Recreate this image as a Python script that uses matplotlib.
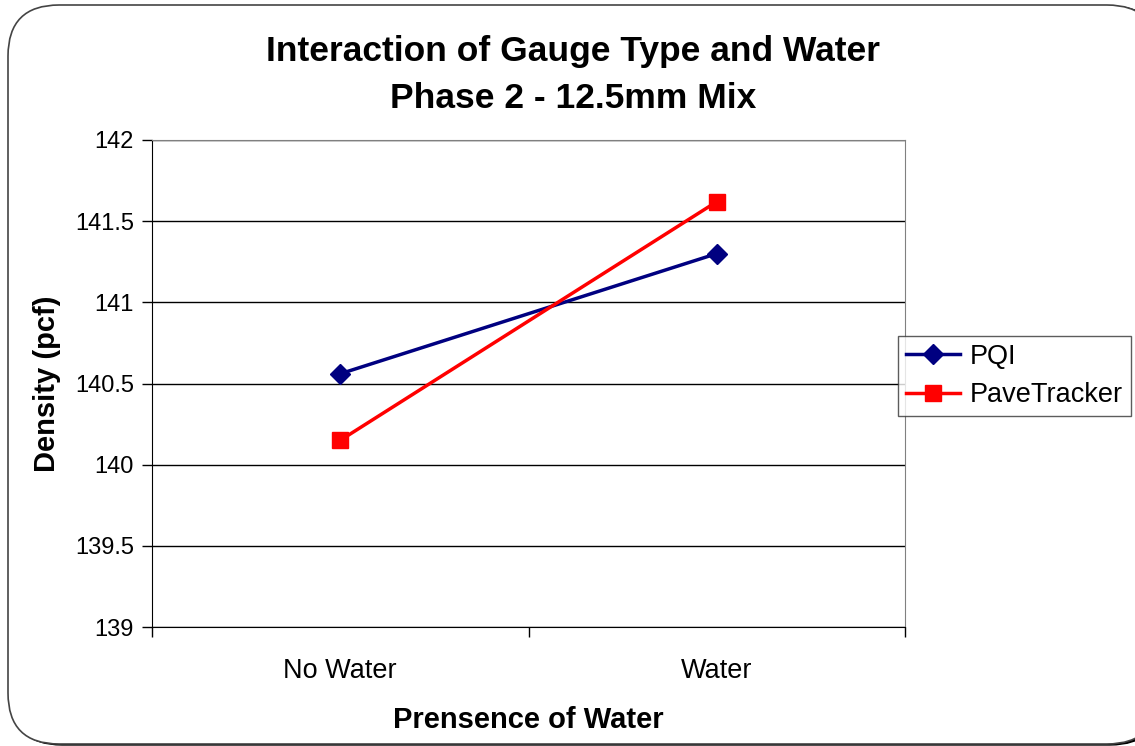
import matplotlib
matplotlib.use("Agg")
import matplotlib.pyplot as plt
from matplotlib.patches import FancyBboxPatch

categories = ["No Water", "Water"]
pqi = [140.56, 141.30]
pavetracker = [140.15, 141.62]
yticks = [139, 139.5, 140, 140.5, 141, 141.5, 142]
ytick_labels = ["139", "139.5", "140", "140.5", "141", "141.5", "142"]

W, H = 1135, 746
plt.rcParams['font.family'] = ['Liberation Sans', 'DejaVu Sans']
fig = plt.figure(figsize=(W / 100, H / 100), dpi=100)

# rounded border with shadow (extends past the right edge like the reference)
shadow = FancyBboxPatch((11 / W, 1 / H), 1150 / W, 739 / H,
                        boxstyle="round,pad=0,rounding_size=0.045",
                        transform=fig.transFigure, facecolor="black",
                        edgecolor="black", zorder=0, mutation_aspect=W / H)
fig.patches.append(shadow)
border = FancyBboxPatch((8 / W, 2 / H), 1150 / W, 739 / H,
                        boxstyle="round,pad=0,rounding_size=0.045",
                        transform=fig.transFigure, facecolor="white",
                        edgecolor="#444444", linewidth=1.2, zorder=1,
                        mutation_aspect=W / H)
fig.patches.append(border)

left, right, top, bottom = 152, 905, 140, 627
ax = fig.add_axes([left / W, 1 - bottom / H, (right - left) / W, (bottom - top) / H])
ax.set_zorder(2)
ax.patch.set_alpha(0)

x = [0.5, 1.5]
ax.plot(x, pqi, color="#000080", linewidth=2.5, marker="D", markersize=10,
        label="PQI", clip_on=False, zorder=3)
ax.plot(x, pavetracker, color="#FF0000", linewidth=2.5, marker="s", markersize=12,
        label="PaveTracker", clip_on=False, zorder=4)

ax.set_xlim(0, 2)
ax.set_ylim(139, 142)
ax.set_yticks(yticks)
ax.set_yticklabels(ytick_labels)
ax.set_xticks([0, 1, 2])
ax.set_xticklabels([])
ax.set_xticks(x, minor=True)
ax.set_xticklabels(categories, minor=True)
ax.tick_params(axis="x", which="minor", length=0, pad=22, labelsize=19.5)
ax.tick_params(axis="x", which="major", direction="out", length=7, width=1, color="black")
ax.tick_params(axis="y", direction="out", length=7, width=1, labelsize=17, pad=6)
ax.yaxis.grid(True, color="black", linewidth=1)
ax.set_axisbelow(True)
for s in ["top", "right"]:
    ax.spines[s].set_color("#808080")
for s in ["left", "bottom"]:
    ax.spines[s].set_color("black")

ax.set_ylabel("Density (pcf)", fontsize=21, fontweight="bold", labelpad=10)
ax.set_xlabel("Prensence of Water", fontsize=21, fontweight="bold", labelpad=16)

fig.text(573 / W, 1 - 52 / H, "Interaction of Gauge Type and Water", ha="center",
         va="center", fontsize=25.5, fontweight="bold")
fig.text(573 / W, 1 - 99 / H, "Phase 2 - 12.5mm Mix", ha="center",
         va="center", fontsize=25.5, fontweight="bold")

leg = ax.legend(loc="center left", bbox_to_anchor=(898 / W, 1 - 376 / H),
                bbox_transform=fig.transFigure, frameon=True, fancybox=False,
                edgecolor="#333333", fontsize=19.5, handlelength=2.0,
                borderpad=0.3, labelspacing=0.45, handletextpad=0.35, borderaxespad=0)
leg.get_frame().set_linewidth(1)

fig.savefig("out.png", dpi=100)
